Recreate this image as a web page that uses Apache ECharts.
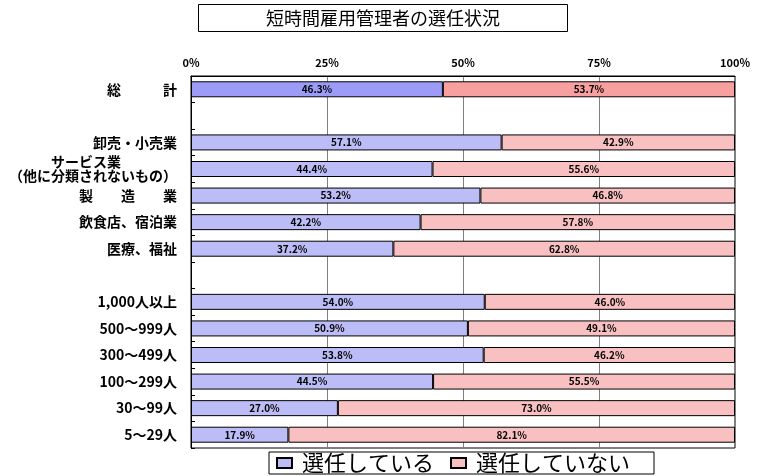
<!DOCTYPE html>
<html><head><meta charset="utf-8">
<script src="https://cdn.jsdelivr.net/npm/echarts@6/dist/echarts.min.js"></script>
<style>html,body{margin:0;padding:0;background:#fff}#c{width:757px;height:476px}</style>
</head><body><div id="c"></div>
<script>
const titleText = '短時間雇用管理者の選任状況';
const categories = ['総　　　計', '', '卸売・小売業', 'サービス業　　　　\n（他に分類されないもの）', '製　　造　　業', '飲食店、宿泊業', '医療、福祉', '', '1,000人以上', '500～999人', '300～499人', '100～299人', '30～99人', '5～29人'];
const seriesNames = ['選任している', '選任していない'];
const selectedVals = [46.3, null, 57.1, 44.4, 53.2, 42.2, 37.2, null, 54.0, 50.9, 53.8, 44.5, 27.0, 17.9];
const notSelectedVals = [53.7, null, 42.9, 55.6, 46.8, 57.8, 62.8, null, 46.0, 49.1, 46.2, 55.5, 73.0, 82.1];
const xTicks = [0, 25, 50, 75, 100];

const FONT = '"Noto Sans CJK JP", "DejaVu Sans", sans-serif';
const colBlue = '#bcbcf6', colRed = '#f8c0c0';
const colBlueTot = '#9c9cf8', colRedTot = '#f8a0a0';

function mk(vals, totalColor) {
  return vals.map((v, i) => i === 0 ? {value: v, itemStyle: {color: totalColor}} : v);
}

const chart = echarts.init(document.getElementById('c'), null, {renderer: 'canvas'});
const labelCfg = {
  show: true, position: 'inside', color: '#000', fontSize: 10, fontWeight: 'bold', fontFamily: FONT,
  formatter: p => (p.value == null ? '' : Number(p.value).toFixed(1) + '%')
};
chart.setOption({
  animation: false,
  backgroundColor: '#fff',
  title: {
    text: titleText, left: 198, top: 4,
    padding: [5, 68, 5, 68],
    borderColor: '#000', borderWidth: 1,
    textStyle: {fontFamily: FONT, fontSize: 18, fontWeight: 'normal', color: '#000'}
  },
  legend: {
    data: seriesNames, left: 269, top: 452,
    borderColor: '#000', borderWidth: 1, padding: [0, 24, 0, 7],
    icon: 'rect', itemWidth: 15, itemHeight: 10, itemGap: 16,
    textStyle: {fontFamily: FONT, fontSize: 22, lineHeight: 21, color: '#000', padding: [0, 0, 0, 5]}
  },
  grid: {left: 191, right: 22, top: 76, bottom: 28, show: true, borderColor: '#000', borderWidth: 1},
  xAxis: {
    type: 'value', position: 'top', min: xTicks[0], max: xTicks[xTicks.length - 1], interval: xTicks[1] - xTicks[0],
    axisLine: {show: true, lineStyle: {color: '#000'}},
    axisTick: {show: false},
    axisLabel: {formatter: '{value}%', color: '#000', fontSize: 11, fontWeight: 'bold', fontFamily: FONT, margin: 8},
    splitLine: {show: true, lineStyle: {color: '#808080', width: 1}}
  },
  yAxis: {
    type: 'category', data: categories, inverse: true,
    axisLine: {show: true, lineStyle: {color: '#000'}},
    axisTick: {show: true, inside: true, length: 4, lineStyle: {color: '#000'}},
    axisLabel: {color: '#000', fontSize: 14, fontWeight: 'bold', fontFamily: FONT, margin: 14, lineHeight: 14, interval: 0}
  },
  series: [
    {name: seriesNames[0], type: 'bar', stack: 's', barWidth: 16, data: mk(selectedVals, colBlueTot),
     itemStyle: {color: colBlue, borderColor: '#000', borderWidth: 1}, label: labelCfg},
    {name: seriesNames[1], type: 'bar', stack: 's', barWidth: 16, data: mk(notSelectedVals, colRedTot),
     itemStyle: {color: colRed, borderColor: '#000', borderWidth: 1}, label: labelCfg}
  ]
});
</script></body></html>
